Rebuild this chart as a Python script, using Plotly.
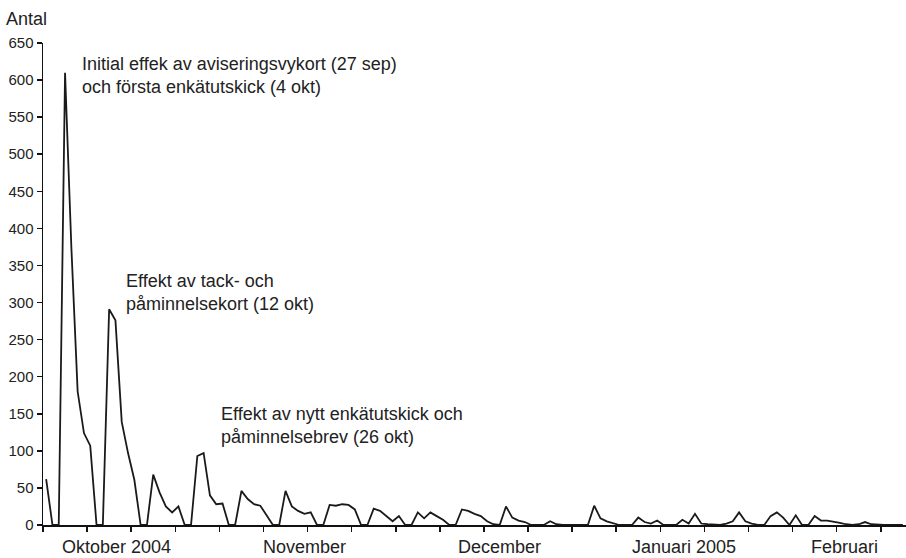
import plotly.graph_objects as go

# Daily counts (category index = day from first day shown)
antal = [62, 0, 0, 610, 375, 180, 124, 107, 0, 0,
         291, 276, 139, 97, 61, 0, 0, 68, 44, 25,
         17, 25, 0, 0, 93, 97, 40, 28, 29, 0,
         0, 46, 35, 28, 26, 13, 0, 0, 46, 25,
         19, 15, 17, 0, 0, 27, 26, 28, 27, 21,
         0, 0, 22, 19, 12, 5, 12, 0, 0, 17,
         9, 17, 12, 7, 0, 0, 21, 19, 15, 12,
         5, 1, 0, 25, 10, 6, 4, 0, 0, 0,
         5, 1, 0, 0, 0, 0, 0, 26, 9, 5,
         2, 0, 0, 0, 10, 4, 2, 6, 0, 0,
         0, 7, 2, 15, 2, 1, 0, 0, 2, 5,
         17, 5, 2, 0, 0, 12, 17, 10, 0, 13,
         0, 0, 12, 6, 6, 5, 3, 1, 0, 1,
         4, 1, 0, 0, 0, 0, 0]
days = list(range(len(antal)))

month_labels = ["Oktober 2004", "November", "December", "Januari 2005", "Februari"]
month_pos = [11.1, 41.0, 71.9, 101.2, 126.8]

week_ticks = [-0.5 + 7 * k for k in range(20)]
y_ticks = list(range(0, 651, 50))

notes = [
    "Initial effek av aviseringsvykort (27 sep)<br>och första enkätutskick (4 okt)",
    "Effekt av tack- och<br>påminnelsekort (12 okt)",
    "Effekt av nytt enkätutskick och<br>påminnelsebrev (26 okt)",
]
note_x = [5.4, 12.3, 27.4]
note_y = [606, 314, 134]

FONT = "Liberation Sans, Arial, sans-serif"
TXT = "#222222"

fig = go.Figure()
fig.add_trace(go.Scatter(
    x=days, y=antal, mode="lines",
    line=dict(color="#1a1a1a", width=1.8),
    hoverinfo="skip", showlegend=False,
))

ann = []
for t, x, y in zip(notes, note_x, note_y):
    ann.append(dict(text=t, x=x, y=y, xref="x", yref="y", xanchor="left",
                    yanchor="middle", align="left", showarrow=False,
                    font=dict(size=18, color=TXT, family=FONT)))
for t, x in zip(month_labels, month_pos):
    ann.append(dict(text=t, x=x, y=0, xref="x", yref="paper", xanchor="center",
                    yanchor="middle", yshift=-22, showarrow=False,
                    font=dict(size=18, color=TXT, family=FONT)))
ann.append(dict(text="Antal", x=-0.045, y=1, xref="paper", yref="paper",
                xanchor="left", yanchor="middle", yshift=24, showarrow=False,
                font=dict(size=18, color=TXT, family=FONT)))

fig.update_layout(
    width=906, height=558,
    margin=dict(l=43, r=0, t=43, b=33),
    paper_bgcolor="white", plot_bgcolor="white",
    font=dict(family=FONT, color=TXT),
    annotations=ann,
    xaxis=dict(range=[-0.5, 136.5], tickmode="array", tickvals=week_ticks,
               ticktext=["" for _ in week_ticks], ticks="outside", ticklen=5,
               tickwidth=1.5, tickcolor="#111", showline=True, linecolor="#111",
               linewidth=1.5, showgrid=False, zeroline=False),
    yaxis=dict(range=[0, 650], tickmode="array", tickvals=y_ticks,
               ticks="outside", ticklen=5, tickwidth=1.5, tickcolor="#111",
               showline=True, linecolor="#111", linewidth=1.5, showgrid=False,
               zeroline=False, tickfont=dict(size=15, color=TXT, family=FONT)),
)

fig.write_html(
    "out.html",
    config={"displayModeBar": False, "staticPlot": True},
    post_script="document.body.style.margin='0';document.body.style.overflow='hidden';",
)
